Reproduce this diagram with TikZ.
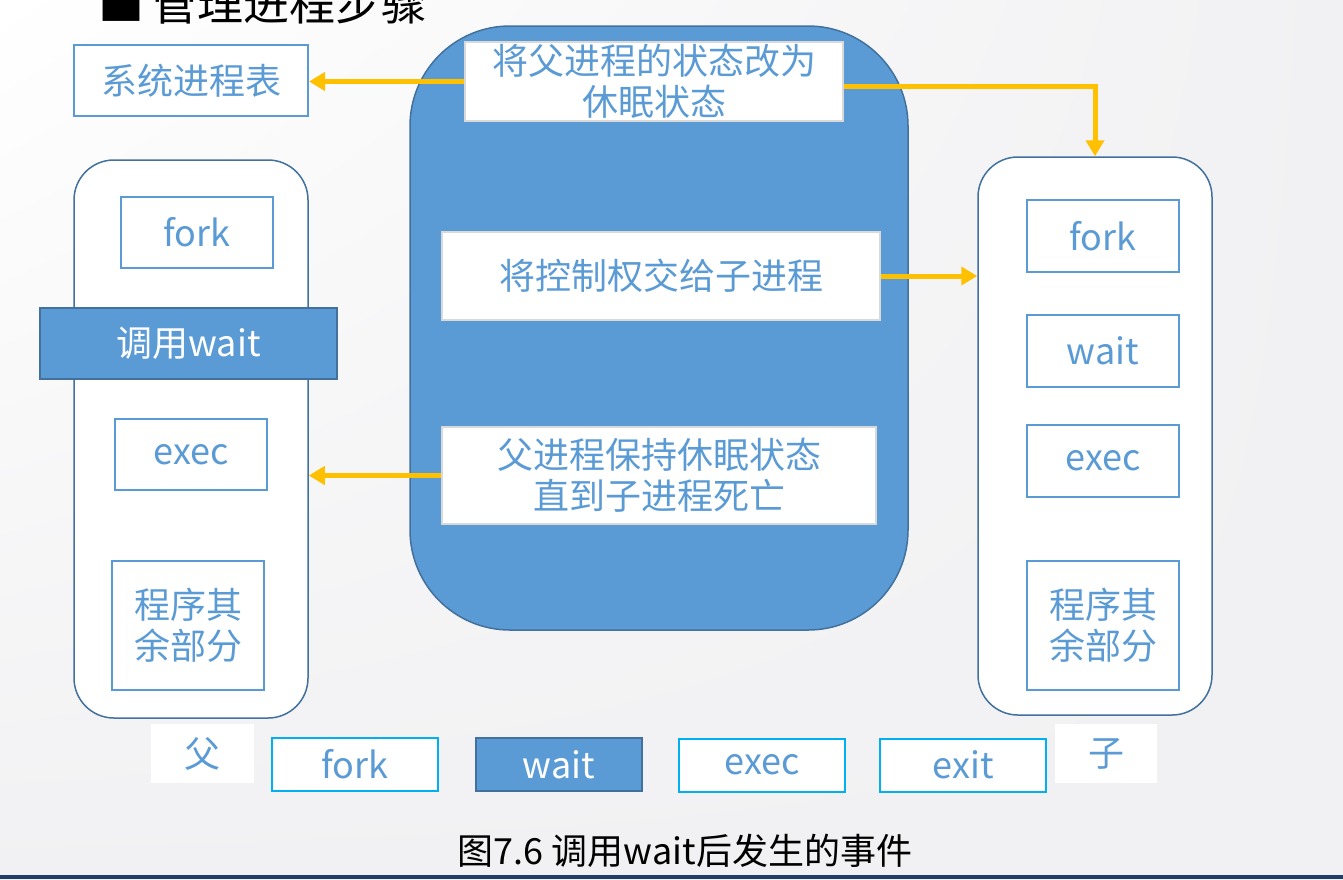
\documentclass[tikz,border=0pt]{standalone}
\usepackage{fontspec}
\setmainfont{Noto Sans CJK SC}
\usepackage{xcolor}
\usepackage{tikz}
\usetikzlibrary{positioning, arrows.meta, calc, shadings}
\definecolor{pcblue}{HTML}{5B9BD5}
\definecolor{pcdark}{HTML}{41719C}
\definecolor{pccyan}{HTML}{00B0F0}
\definecolor{pcorange}{HTML}{FFC000}
\definecolor{pcgrey}{HTML}{D9D9D9}
\definecolor{pcnavy}{HTML}{1F3F66}
\definecolor{pcbg}{HTML}{F1F1F3}

\newcommand{\bigtxt}{\fontsize{36}{41}\selectfont}

\begin{document}
\begin{tikzpicture}[x=1pt, y=-1pt,
  procbox/.style={rectangle, rounded corners=40pt, fill=white, draw=pcdark,
                  line width=1.5pt, minimum width=234pt, minimum height=558pt},
  stepbox/.style={rectangle, fill=white, draw=pcblue, line width=2pt,
                  text=pcblue, font=\bigtxt, align=center, inner sep=0pt},
  eventbox/.style={rectangle, fill=white, draw=pcgrey, line width=2pt,
                   text=pcblue, font=\bigtxt, align=center, inner sep=0pt},
  callbox/.style={rectangle, fill=pcblue, draw=pcdark, line width=1.5pt,
                  text=white, font=\bigtxt, inner sep=0pt},
  rowbox/.style={rectangle, fill=white, draw=pccyan, line width=2pt,
                 text=pcblue, font=\bigtxt, inner sep=0pt,
                 minimum width=166pt, minimum height=53pt},
  tagbox/.style={rectangle, fill=white, text=pcblue, font=\bigtxt,
                 inner sep=0pt, minimum width=103pt, minimum height=59pt},
  flow/.style={-{Triangle[length=16pt, width=18pt]}, color=pcorange, line width=5pt}
]
% page and background
\useasboundingbox (0,0) rectangle (1343,879);
\shade[upper left=white, upper right=pcbg, lower left=pcbg, lower right=pcbg]
  (0,0) rectangle (1343,879);
\fill[pcnavy] (0,875) rectangle (1343,879);

% title
\node[anchor=base west, inner sep=0pt, font=\fontsize{46}{50}\selectfont] (title)
  at (98,20) {■\,管理进程步骤};

% system process table
\node[stepbox, minimum width=234pt, minimum height=71pt] (table) at (191,80.5) {系统进程表};

% parent and child processes
\node[procbox] (parent) at (191,439) {};
\node[procbox] (child) at (1095,436) {};

% kernel actions
\node[rectangle, rounded corners=100pt, fill=pcblue, draw=pcdark, line width=1.5pt,
      minimum width=498pt, minimum height=604pt] (kernel) at (659,328) {};
\node[eventbox, minimum width=378pt, minimum height=79pt] (sleep) at (654,81.5)
  {将父进程的状态改为\\休眠状态};
\node[eventbox, minimum width=438pt, minimum height=88pt] (handover) at (661,276)
  {将控制权交给子进程};
\node[eventbox, minimum width=434pt, minimum height=97pt] (keep) at (659,475.5)
  {父进程保持休眠状态\\直到子进程死亡};

% parent steps
\node[stepbox, minimum width=152pt, minimum height=71pt] (pfork) at (197,232.5) {fork};
\node[callbox, minimum width=297pt, minimum height=71pt] (pwait) at (188.5,343.5) {调用wait};
\node[stepbox, minimum width=152pt, minimum height=71pt] (pexec) at (191,454.5) {exec};
\node[stepbox, minimum width=152pt, minimum height=129pt] (prest) at (188,625.5) {程序其\\余部分};

% child steps
\foreach \n/\t/\y in {cfork/fork/236, cwait/wait/351, cexec/exec/461} {
  \node[stepbox, minimum width=152pt, minimum height=72pt] (\n) at (1103,\y) {\t};
}
\node[stepbox, minimum width=152pt, minimum height=129pt] (crest) at (1103,625.5) {程序其\\余部分};

% arrows
\draw[flow] (sleep.west) -- (sleep.west -| table.east);
\draw[flow] ([yshift=-5pt]sleep.east) -| (child.north);
\draw[flow] (handover.east) -- (handover.east -| child.west);
\draw[flow] (keep.west) -- (keep.west -| parent.east);

% call sequence row
\node[tagbox] (father) at (202.5,753.5) {父};
\node[rowbox] (rfork) at (355,764.5) {fork};
\node[rowbox, fill=pcblue, draw=pcdark, text=white] (rwait) at (559,764.5) {wait};
\node[rowbox] (rexec) at (762,765) {exec};
\node[rowbox] (rexit) at (963,765) {exit};
\node[tagbox, minimum width=102pt] (son) at (1106,753.5) {子};

% caption
\node[font=\fontsize{36}{40}\selectfont, inner sep=0pt] (caption) at (685,851)
  {图7.6 调用wait后发生的事件};
\end{tikzpicture}
\end{document}
